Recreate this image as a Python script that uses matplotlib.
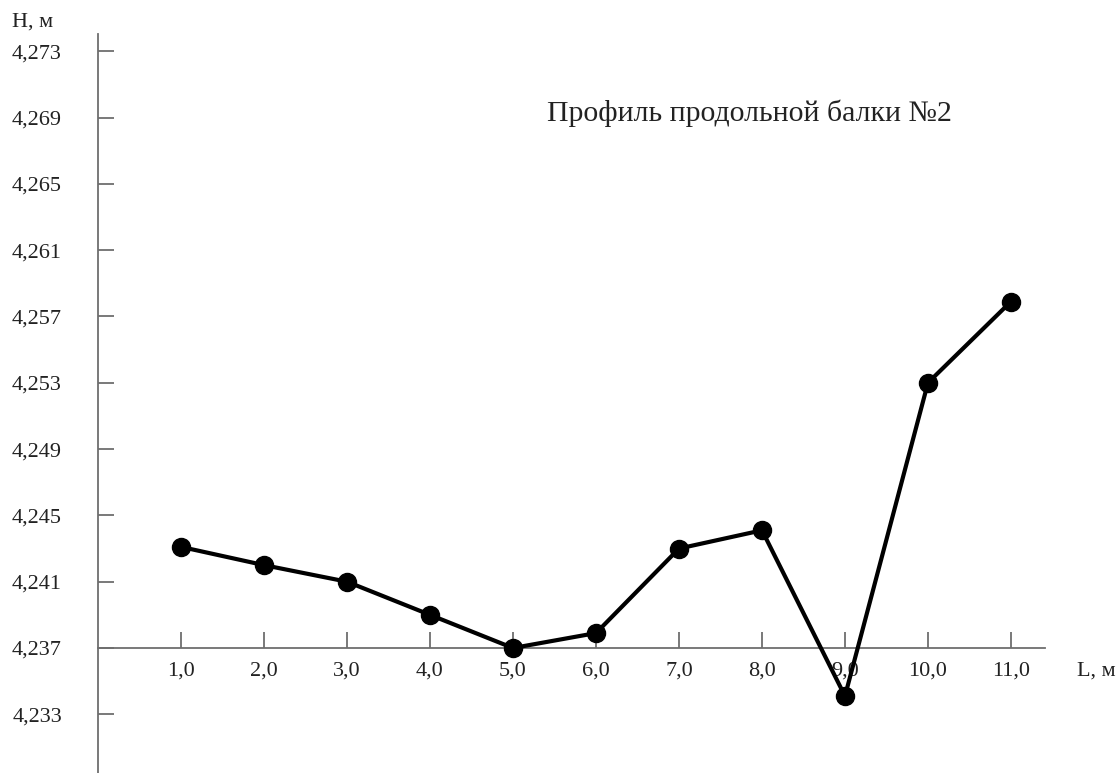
import matplotlib
matplotlib.use("Agg")
import matplotlib.pyplot as plt
from matplotlib.ticker import FuncFormatter

L = [1, 2, 3, 4, 5, 6, 7, 8, 9, 10, 11]
H = [4.2431, 4.2420, 4.2410, 4.2390, 4.2370, 4.2379, 4.2430, 4.2441, 4.2341, 4.2530, 4.2579]
y_ticks = [4.233, 4.237, 4.241, 4.245, 4.249, 4.253, 4.257, 4.261, 4.265, 4.269, 4.273]
title = "Профиль продольной балки №2"

plt.rcParams['font.family'] = ['Liberation Serif', 'DejaVu Serif']
txt = '#222222'
axis_col = '#6e6e6e'

fig = plt.figure(figsize=(11.2, 7.73), dpi=100)
ax = fig.add_axes([98 / 1120, 0, (1045 - 98) / 1120, (773 - 34) / 773])

ax.plot(L, H, color='black', lw=3, marker='o', ms=13, zorder=3)

ax.set_xlim(0, 11.41)
ax.set_ylim(4.22946, 4.27404)

for s in ['top', 'right']:
    ax.spines[s].set_visible(False)
ax.spines['bottom'].set_position(('data', 4.237))
for s in ['left', 'bottom']:
    ax.spines[s].set_color(axis_col)
    ax.spines[s].set_linewidth(1.3)

ax.set_xticks(L)
ax.set_yticks(y_ticks)
ax.xaxis.set_major_formatter(FuncFormatter(lambda v, p: f"{v:.1f}".replace('.', ',')))
ax.yaxis.set_major_formatter(FuncFormatter(lambda v, p: f"{v:.3f}".replace('.', ',')))
ax.tick_params(axis='x', direction='in', length=11.5, width=1.3, color=axis_col,
               labelsize=16, labelcolor=txt, pad=10)
ax.tick_params(axis='y', direction='in', length=11.5, width=1.3, color=axis_col,
               labelsize=16, labelcolor=txt, pad=26)
ax.patch.set_alpha(0)

fig.text(749 / 1120, 1 - 113 / 773, title, ha='center', va='center', fontsize=21.5, color=txt)
fig.text(12 / 1120, 1 - 22 / 773, "Н, м", ha='left', va='center', fontsize=16, color=txt)
fig.text(1077 / 1120, 1 - 671 / 773, "L, м", ha='left', va='center', fontsize=16, color=txt)

fig.savefig("out.png", dpi=100)
